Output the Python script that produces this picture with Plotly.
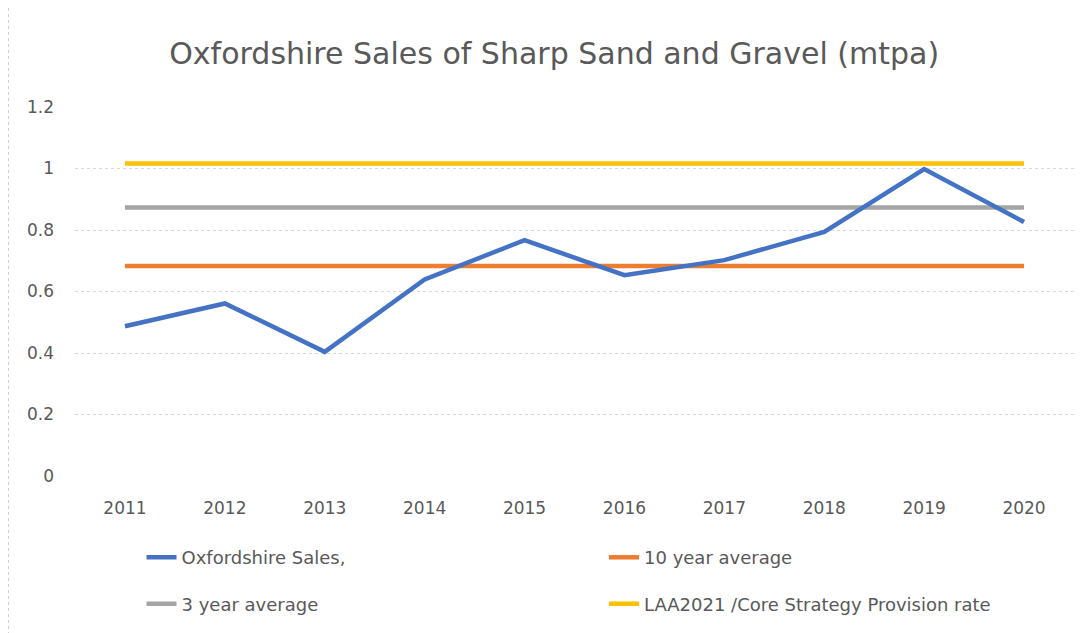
import plotly.graph_objects as go

years = ["2011", "2012", "2013", "2014", "2015", "2016", "2017", "2018", "2019", "2020"]
oxfordshire_sales = [0.487, 0.561, 0.404, 0.639, 0.767, 0.653, 0.702, 0.794, 0.998, 0.826]
ten_year_average = [0.683, 0.683, 0.683, 0.683, 0.683, 0.683, 0.683, 0.683, 0.683, 0.683]
three_year_average = [0.873, 0.873, 0.873, 0.873, 0.873, 0.873, 0.873, 0.873, 0.873, 0.873]
provision_rate = [1.016, 1.016, 1.016, 1.016, 1.016, 1.016, 1.016, 1.016, 1.016, 1.016]
y_ticks = [0, 0.2, 0.4, 0.6, 0.8, 1, 1.2]

FONT = "DejaVu Sans, Roboto, sans-serif"
GREY_TXT = "#595959"
PW = 999.0   # plot width px
PH = 369.0   # plot height px

fig = go.Figure()
fig.add_trace(go.Scatter(x=years, y=provision_rate, mode="lines", name="LAA2021 /Core Strategy Provision rate",
                         line=dict(color="#FFC000", width=4.5), legend="legend2", legendgroup="d", legendrank=2))
fig.add_trace(go.Scatter(x=years, y=three_year_average, mode="lines", name="3 year average",
                         line=dict(color="#A5A5A5", width=4.5), legend="legend", legendgroup="c", legendrank=2))
fig.add_trace(go.Scatter(x=years, y=ten_year_average, mode="lines", name="10 year average",
                         line=dict(color="#ED7D31", width=4.5), legend="legend2", legendgroup="b", legendrank=1))
fig.add_trace(go.Scatter(x=years, y=oxfordshire_sales, mode="lines", name="Oxfordshire Sales,",
                         line=dict(color="#4472C4", width=4.5), legend="legend", legendgroup="a", legendrank=1))

legend_common = dict(font=dict(family=FONT, size=18, color=GREY_TXT), bgcolor="rgba(0,0,0,0)",
                     traceorder="grouped", tracegroupgap=20, orientation="v", yanchor="top",
                     itemwidth=30)

fig.update_layout(
    width=1088, height=633,
    paper_bgcolor="white", plot_bgcolor="white",
    margin=dict(l=67, r=22, t=99, b=165, autoexpand=False),
    title=dict(text="Oxfordshire Sales of Sharp Sand and Gravel (mtpa)",
               font=dict(family=FONT, size=30, color=GREY_TXT),
               x=0.502, xref="container", xanchor="center", y=1 - 45 / 633, yanchor="middle"),
    font=dict(family=FONT, color=GREY_TXT),
    legend=dict(x=66.5 / PW, y=-0.171, **legend_common),
    legend2=dict(x=529 / PW, y=-0.171, **legend_common),
    xaxis=dict(type="category", range=[-0.5, 9.5], showgrid=False, showline=False, zeroline=False,
               ticks="", tickfont=dict(family=FONT, size=17, color=GREY_TXT), ticklabelstandoff=20),
    yaxis=dict(range=[0, 1.2], tickvals=y_ticks, ticktext=[f"{v:g}" for v in y_ticks],
               showgrid=True, gridcolor="#D9D9D9", gridwidth=1, griddash="dot",
               zeroline=False, showline=False, ticks="",
               tickfont=dict(family=FONT, size=17, color=GREY_TXT), ticklabelstandoff=20),
    showlegend=True,
)

fig.add_shape(type="line", xref="paper", yref="paper", x0=-66.5 / PW, x1=-66.5 / PW,
              y0=-165 / PH, y1=1 + 99 / PH, line=dict(color="#D0D0D0", width=1, dash="dot"))

fig.write_html("out.html")
